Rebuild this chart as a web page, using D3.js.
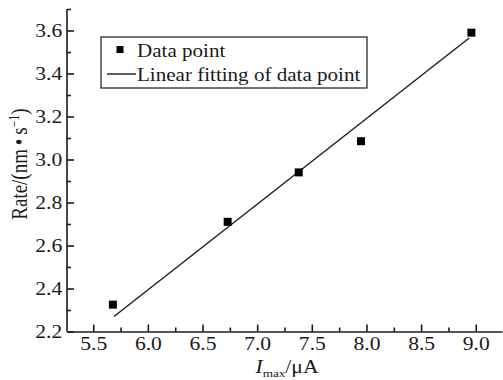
<!DOCTYPE html>
<html>
<head>
<meta charset="utf-8">
<script src="https://cdn.jsdelivr.net/npm/d3@7"></script>
<style>
  body { margin: 0; background: #fff; }
  svg text { font-family: "Liberation Serif", "Times New Roman", serif; fill: #1a1a1a; }
</style>
</head>
<body>
<div id="chart"></div>
<script>
// measured data (I_max in uA, rate in nm/s)
var currents = [5.68, 6.73, 7.38, 7.95, 8.96];
var rates = [2.325, 2.71, 2.94, 3.085, 3.59];

// fitted line end points, as drawn
var fitX = [5.69, 8.94];
var fitY = [2.27, 3.565];

var xMajor = [5.5, 6.0, 6.5, 7.0, 7.5, 8.0, 8.5, 9.0];
var xMinor = [5.75, 6.25, 6.75, 7.25, 7.75, 8.25, 8.75];
var yMajor = [2.2, 2.4, 2.6, 2.8, 3.0, 3.2, 3.4, 3.6];
var yMinor = [2.3, 2.5, 2.7, 2.9, 3.1, 3.3, 3.5, 3.7];

var legendLabels = ["Data point", "Linear fitting of data point"];

var W = 503, H = 380,
    ink = "#1a1a1a",
    serif = "'Liberation Serif', 'Times New Roman', serif",
    wide = "scale(1.2,1)";   // the original figure's type is a bit stretched sideways

var svg = d3.select("#chart").append("svg")
    .attr("width", W)
    .attr("height", H);

var x = d3.scaleLinear().domain([5.26, 9.24]).range([67, 502]),
    y = d3.scaleLinear().domain([2.2, 3.7]).range([331.5, 9]);

// bottom axis, ticks pointing inside
var gx = svg.append("g")
    .attr("transform", "translate(0," + y(2.2) + ")");
gx.call(d3.axisBottom(x).tickValues(xMajor)
        .tickFormat(d3.format(".1f"))
        .tickSizeInner(-7).tickSizeOuter(0).tickPadding(6));
gx.append("g").call(d3.axisBottom(x).tickValues(xMinor)
        .tickFormat("").tickSizeInner(-4).tickSizeOuter(0))
    .select(".domain").remove();

// left axis
var gy = svg.append("g")
    .attr("transform", "translate(" + x(5.26) + ",0)");
gy.call(d3.axisLeft(y).tickValues(yMajor)
        .tickFormat(d3.format(".1f"))
        .tickSizeInner(-7).tickSizeOuter(0).tickPadding(4));
gy.append("g").call(d3.axisLeft(y).tickValues(yMinor)
        .tickFormat("").tickSizeInner(-4).tickSizeOuter(0))
    .select(".domain").remove();

svg.selectAll(".domain, .tick line")
    .attr("stroke", ink).attr("stroke-width", 1.6);
svg.selectAll(".tick text")
    .style("font-family", serif)
    .style("font-size", "18px")
    .attr("fill", ink)
    .attr("transform", wide);
// the top of the y axis runs a little past the last tick
gy.select(".domain").attr("d", "M0," + y(2.2) + "V" + y(3.7));

// fitting line
svg.append("line")
    .attr("x1", x(fitX[0])).attr("y1", y(fitY[0]))
    .attr("x2", x(fitX[1])).attr("y2", y(fitY[1]))
    .attr("stroke", ink).attr("stroke-width", 1.4);

// data points
var sq = 8;
svg.selectAll("rect.pt")
    .data(currents)
    .enter().append("rect")
    .attr("class", "pt")
    .attr("x", function (d) { return x(d) - sq / 2; })
    .attr("y", function (d, i) { return y(rates[i]) - sq / 2; })
    .attr("width", sq).attr("height", sq)
    .attr("fill", "#000");

// axis titles
var yTitle = svg.append("text")
    .attr("transform", "translate(27,164) rotate(-90) scale(1,1.2)")
    .attr("text-anchor", "middle")
    .style("font-size", "19px");
yTitle.append("tspan").text("Rate/(nm\u2009\u2022\u2009s");
yTitle.append("tspan").style("font-size", "12px").attr("dy", -7).text("\u22121");
yTitle.append("tspan").attr("dy", 7).text(")");

var xTitle = svg.append("text")
    .attr("transform", "translate(287,373) " + wide)
    .attr("text-anchor", "middle")
    .style("font-size", "18px");
xTitle.append("tspan").attr("font-style", "italic").text("I");
xTitle.append("tspan").style("font-size", "11px").attr("dy", 4).text("max");
xTitle.append("tspan").attr("dy", -4).text("/\u03bcA");

// legend
var lg = svg.append("g");
lg.append("rect")
    .attr("x", 101).attr("y", 37)
    .attr("width", 266).attr("height", 51)
    .attr("fill", "#fff")
    .attr("stroke", ink).attr("stroke-width", 1.2);
lg.append("rect")
    .attr("x", 116.5).attr("y", 46)
    .attr("width", 7).attr("height", 7)
    .attr("fill", "#000");
lg.append("line")
    .attr("x1", 107).attr("x2", 136)
    .attr("y1", 74).attr("y2", 74)
    .attr("stroke", ink).attr("stroke-width", 1.4);
lg.selectAll("text")
    .data(legendLabels)
    .enter().append("text")
    .attr("transform", function (d, i) {
        return "translate(137," + (56.5 + i * 24) + ") scale(1.17,1)";
    })
    .style("font-size", "18px")
    .text(function (d) { return d; });
</script>
</body>
</html>
